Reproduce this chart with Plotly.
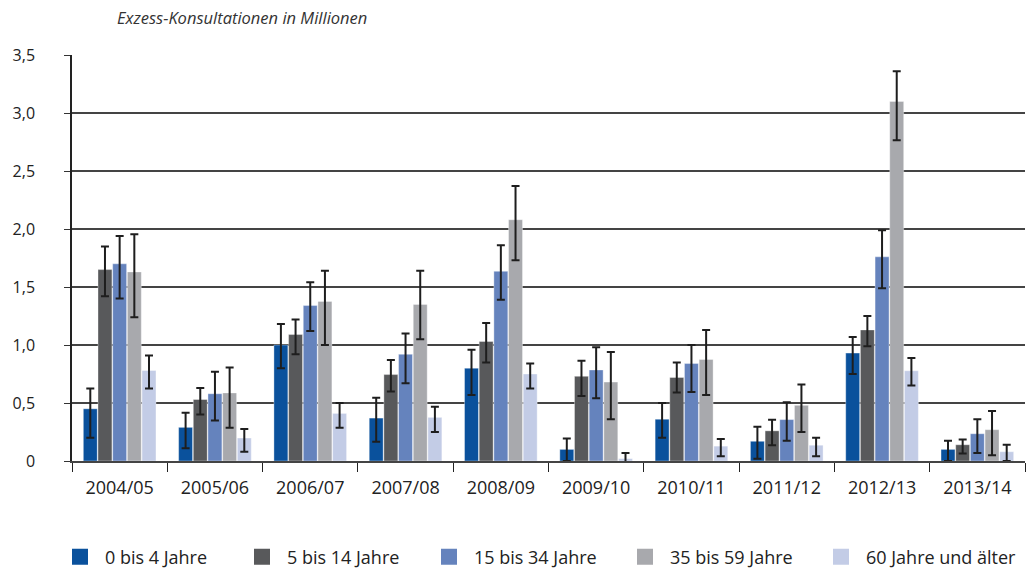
import plotly.graph_objects as go

# Influenza seasons
seasons = ["2004/05", "2005/06", "2006/07", "2007/08", "2008/09",
           "2009/10", "2010/11", "2011/12", "2012/13", "2013/14"]

# Excess consultations (millions) per age group, with lower / upper bounds
age_0_4 = [0.45, 0.29, 1.00, 0.37, 0.80, 0.10, 0.36, 0.17, 0.93, 0.10]
age_0_4_lo = [0.20, 0.11, 0.80, 0.165, 0.57, 0.00, 0.20, 0.02, 0.75, 0.00]
age_0_4_hi = [0.625, 0.415, 1.18, 0.545, 0.96, 0.195, 0.50, 0.295, 1.07, 0.175]

age_5_14 = [1.65, 0.53, 1.09, 0.745, 1.03, 0.73, 0.72, 0.26, 1.13, 0.14]
age_5_14_lo = [1.42, 0.40, 0.92, 0.60, 0.85, 0.56, 0.59, 0.135, 0.99, 0.065]
age_5_14_hi = [1.85, 0.63, 1.22, 0.87, 1.19, 0.865, 0.85, 0.355, 1.25, 0.185]

age_15_34 = [1.70, 0.58, 1.34, 0.92, 1.635, 0.785, 0.84, 0.357, 1.76, 0.235]
age_15_34_lo = [1.40, 0.35, 1.12, 0.67, 1.39, 0.54, 0.595, 0.174, 1.49, 0.07]
age_15_34_hi = [1.94, 0.77, 1.54, 1.10, 1.86, 0.98, 1.00, 0.507, 1.99, 0.36]

age_35_59 = [1.63, 0.587, 1.376, 1.35, 2.08, 0.68, 0.875, 0.48, 3.10, 0.27]
age_35_59_lo = [1.24, 0.286, 1.00, 1.05, 1.73, 0.36, 0.57, 0.25, 2.765, 0.05]
age_35_59_hi = [1.955, 0.805, 1.64, 1.64, 2.37, 0.94, 1.13, 0.66, 3.36, 0.43]

age_60 = [0.78, 0.198, 0.41, 0.376, 0.75, 0.02, 0.128, 0.136, 0.778, 0.08]
age_60_lo = [0.625, 0.08, 0.286, 0.25, 0.625, -0.03, 0.04, 0.04, 0.65, 0.0]
age_60_hi = [0.91, 0.275, 0.50, 0.468, 0.84, 0.07, 0.19, 0.20, 0.887, 0.14]

group_names = ["0 bis 4 Jahre", "5 bis 14 Jahre", "15 bis 34 Jahre",
               "35 bis 59 Jahre", "60 Jahre und älter"]
group_colors = ["#0a519c", "#58595b", "#6583bd", "#a8a9ad", "#c3cce6"]

y_tickvals = [0, 0.5, 1.0, 1.5, 2.0, 2.5, 3.0, 3.5]
y_ticktext = ["0", "0,5", "1,0", "1,5", "2,0", "2,5", "3,0", "3,5"]

series = [
    (age_0_4, age_0_4_lo, age_0_4_hi),
    (age_5_14, age_5_14_lo, age_5_14_hi),
    (age_15_34, age_15_34_lo, age_15_34_hi),
    (age_35_59, age_35_59_lo, age_35_59_hi),
    (age_60, age_60_lo, age_60_hi),
]

FONT = "Open Sans"
TEXT = "#222222"

# figure / plot area in pixels (used to place the title and legend entries)
FIG_W, FIG_H = 1032, 571
PLOT_L, PLOT_W = 72, 953
PLOT_BOTTOM, PLOT_H = 461.5, 406.5
legend_px = [55, 237, 424, 620, 816]
legend_center_px = 557

fig = go.Figure()
for name, color, (vals, lo, hi) in zip(group_names, group_colors, series):
    fig.add_trace(go.Bar(
        x=seasons,
        y=vals,
        name=name,
        showlegend=False,
        marker=dict(color=color, line=dict(color="rgba(255,255,255,0.6)", width=0.6)),
        error_y=dict(
            type="data",
            symmetric=False,
            array=[h - v for h, v in zip(hi, vals)],
            arrayminus=[v - l for v, l in zip(vals, lo)],
            color="#1e1e1e",
            thickness=2,
            width=4,
        ),
    ))

# one legend per age group, each with a square swatch
legend_layouts = {}
for k, (name, color, px) in enumerate(zip(group_names, group_colors, legend_px)):
    key = "legend" if k == 0 else f"legend{k + 1}"
    fig.add_trace(go.Scatter(
        x=[None], y=[None], mode="markers", name=name,
        marker=dict(symbol="square", size=16, color=color, line=dict(width=0)),
        legend=key, showlegend=True,
    ))
    legend_layouts[key] = dict(
        xref="container", yref="container",
        x=px / FIG_W, y=1 - legend_center_px / FIG_H,
        xanchor="left", yanchor="middle",
        orientation="h",
        itemwidth=40,
        font=dict(family=FONT, size=18, color=TEXT),
        bgcolor="rgba(0,0,0,0)",
    )

fig.add_annotation(
    text="<i>Exzess-Konsultationen in Millionen</i>",
    xref="paper", yref="paper",
    x=(115 - PLOT_L) / PLOT_W, y=1 + (55 - 17) / PLOT_H,
    xanchor="left", yanchor="middle",
    showarrow=False,
    font=dict(family=FONT, size=16.5, color="#333333"),
)

fig.update_layout(
    width=FIG_W, height=FIG_H,
    margin=dict(l=72, r=7, t=55, b=110),
    paper_bgcolor="white", plot_bgcolor="white",
    barmode="group",
    bargap=0.23,
    bargroupgap=0.05,
    showlegend=True,
    xaxis=dict(
        type="category",
        showgrid=False,
        showline=True, linecolor="#444444", linewidth=1.5,
        ticks="outside", tickson="boundaries", ticklen=9,
        tickcolor="#222222", tickwidth=1.2,
        ticklabelstandoff=10,
        tickfont=dict(family=FONT, size=18, color=TEXT),
    ),
    yaxis=dict(
        range=[0, 3.5],
        tickvals=y_tickvals,
        ticktext=y_ticktext,
        showgrid=True, gridcolor="#444444", gridwidth=1.6,
        zeroline=False,
        showline=True, linecolor="#222222", linewidth=1.5,
        ticks="outside", ticklen=6, tickcolor="#333333", tickwidth=1.2,
        ticklabelstandoff=26,
        tickfont=dict(family=FONT, size=16, color=TEXT),
    ),
    **legend_layouts,
)

fig.write_html("out.html")
